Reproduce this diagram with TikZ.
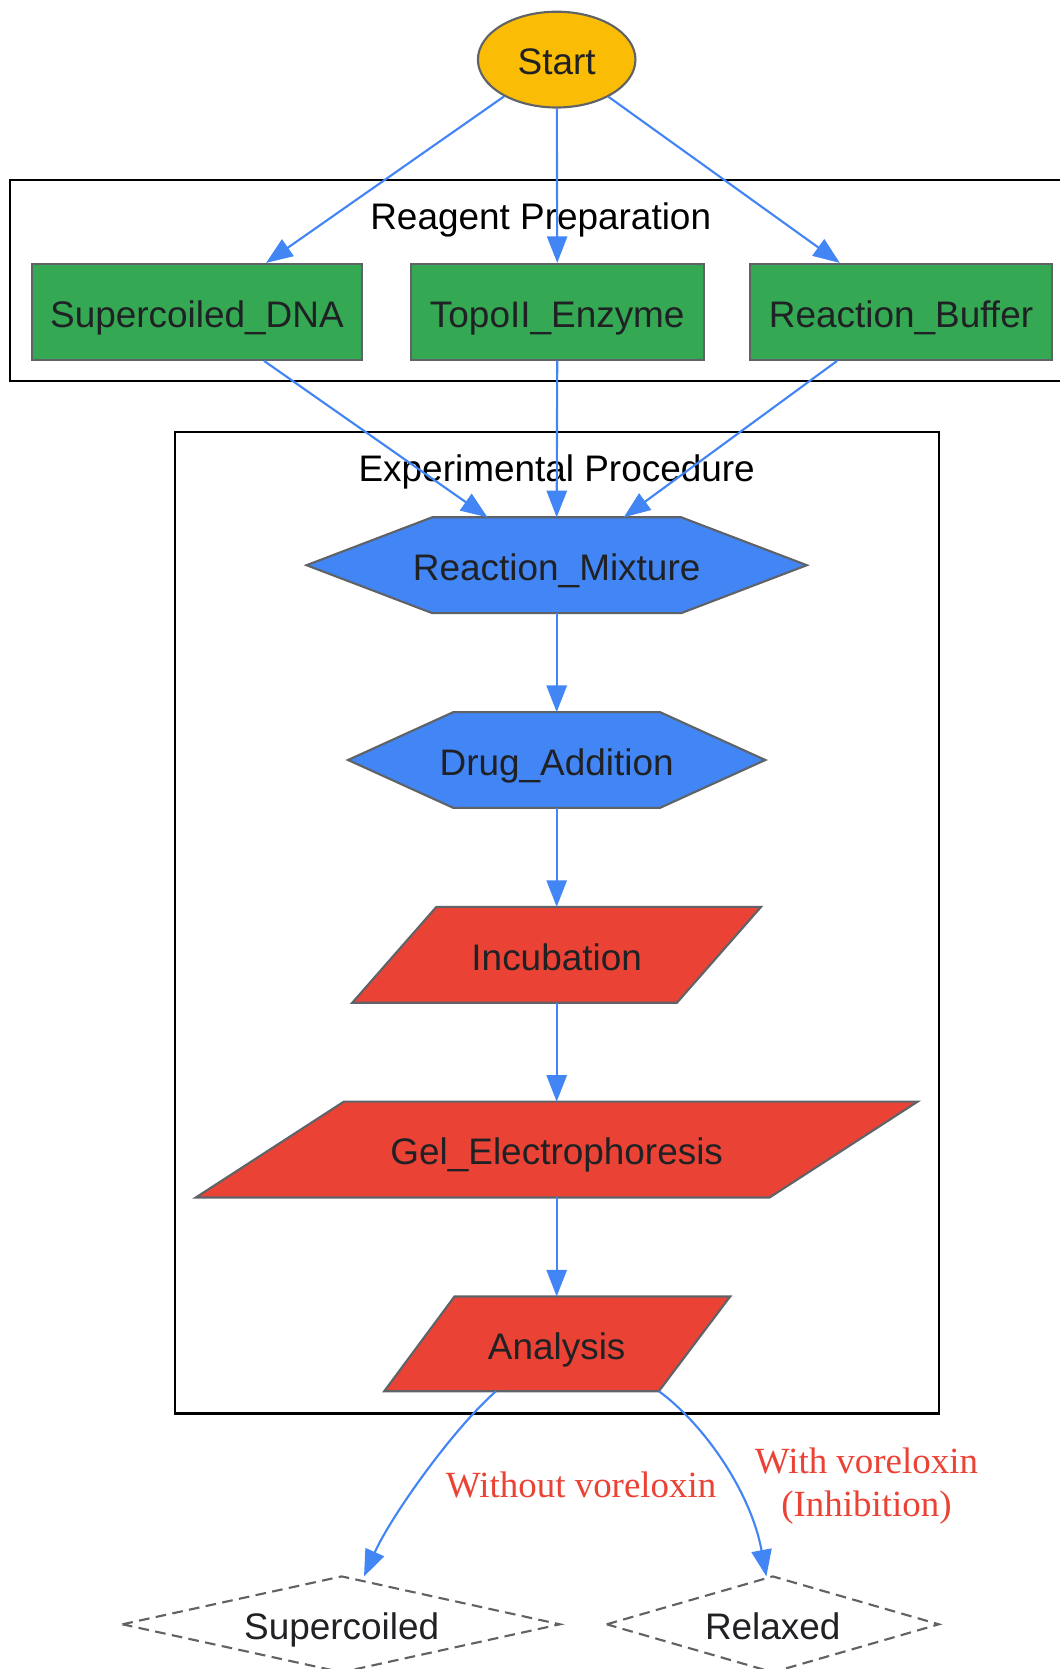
\documentclass[tikz,border=0pt]{standalone}
\usepackage{fontspec}
\setmainfont{Liberation Sans}
\newfontfamily\serifl{Liberation Serif}
\usetikzlibrary{arrows.meta,shapes.geometric}
\definecolor{cyel}{HTML}{FBBC05}
\definecolor{cgreen}{HTML}{34A853}
\definecolor{cblue}{HTML}{4285F4}
\definecolor{cred}{HTML}{EA4335}
\definecolor{cbord}{HTML}{5F6368}
\definecolor{ctext}{HTML}{202124}
\begin{document}
\begin{tikzpicture}[x=1pt,y=-1pt,
  edge/.style={draw=cblue, line width=2pt, -{Triangle[length=25pt,width=19pt]}},
  shp/.style={draw=cbord, line width=2pt, line join=miter},
  lbl/.style={font=\fontsize{34.7pt}{41.6pt}\selectfont, text=ctext, inner sep=0pt, text height=35.8pt, text depth=7pt},
  clab/.style={font=\fontsize{34.7pt}{41.6pt}\selectfont, text=black, inner sep=0pt, text height=35.8pt, text depth=7pt},
  elab/.style={font=\serifl\fontsize{34.7pt}{41pt}\selectfont, text=cred, inner sep=0pt, align=center},
  box/.style={shp, fill=cgreen, rectangle, minimum height=90pt, inner sep=0pt, lbl},
  clus/.style={draw=black, line width=2pt},
  outc/.style={draw=cbord, line width=2pt, dash pattern=on 10pt off 6pt}]
\useasboundingbox (0,0) rectangle (995,1568);

% clusters
\draw[clus] (9,169) rectangle (1000,358);
\node[clab] (cl1) at (508,201) {Reagent Preparation};
\draw[clus] (164,406) rectangle (882,1328);
\node[clab] (cl2) at (523,438) {Experimental Procedure};

% start
\node[ellipse, shp, fill=cyel, minimum width=148pt, minimum height=90pt, inner sep=0pt, lbl] (start) at (523,56) {Start};

% reagent boxes
\node[box, minimum width=310pt] (sdna) at (185,293) {Supercoiled\_DNA};
\node[box, minimum width=275pt] (topo) at (523.5,293) {TopoII\_Enzyme};
\node[box, minimum width=283pt] (buf) at (846.5,293) {Reaction\_Buffer};

% hexagons
\draw[shp, fill=cblue] (288,531) -- (406,486) -- (640,486) -- (758,531) -- (640,576) -- (406,576) -- cycle;
\coordinate (rm-n) at (523,486); \coordinate (rm-s) at (523,576);
\node[lbl] (rm) at (523,531) {Reaction\_Mixture};

\draw[shp, fill=cblue] (327,714) -- (426,669) -- (620,669) -- (719,714) -- (620,759) -- (426,759) -- cycle;
\coordinate (da-n) at (523,669); \coordinate (da-s) at (523,759);
\node[lbl] (da) at (523,714) {Drug\_Addition};

% parallelograms
\draw[shp, fill=cred] (410,852) -- (715,852) -- (636,942) -- (331,942) -- cycle;
\coordinate (inc-n) at (523,852); \coordinate (inc-s) at (523,942);
\node[lbl] (inc) at (523,897) {Incubation};

\draw[shp, fill=cred] (323,1035) -- (862,1035) -- (723,1125) -- (184,1125) -- cycle;
\coordinate (gel-n) at (523,1035); \coordinate (gel-s) at (523,1125);
\node[lbl] (gel) at (523,1080) {Gel\_Electrophoresis};

\draw[shp, fill=cred] (427,1218) -- (686,1218) -- (619,1307) -- (361,1307) -- cycle;
\coordinate (an-n) at (523,1218); \coordinate (an-s) at (523,1307);
\node[lbl] (an) at (523,1263) {Analysis};

% outcome diamonds
\draw[outc] (115,1526) -- (321,1481) -- (526,1526) -- (321,1571) -- cycle;
\coordinate (sc-n) at (321,1481);
\node[lbl] (sc) at (321,1526) {Supercoiled};
\draw[outc] (570,1526) -- (726,1481) -- (882,1526) -- (726,1571) -- cycle;
\coordinate (rx-n) at (726,1481);
\node[lbl] (rx) at (726,1526) {Relaxed};

% edges
\draw[edge] (start) -- ([xshift=65pt]sdna.north);
\draw[edge] (start) -- (topo.north);
\draw[edge] (start) -- ([xshift=-57.5pt]buf.north);
\draw[edge] ([xshift=63pt]sdna.south) -- ([xshift=-65pt]rm-n);
\draw[edge] (topo.south) -- (rm-n);
\draw[edge] ([xshift=-60pt]buf.south) -- ([xshift=63pt]rm-n);
\draw[edge] (rm-s) -- (da-n);
\draw[edge] (da-s) -- (inc-n);
\draw[edge] (inc-s) -- (gel-n);
\draw[edge] (gel-s) -- (an-n);
\draw[edge] ([xshift=-57pt]an-s) .. controls (425,1343) and (367,1425) .. ([xshift=21pt]sc-n);
\draw[edge] ([xshift=96pt]an-s) .. controls (660,1337) and (705,1400) .. ([xshift=-6pt]rx-n);

% edge labels
\node[elab] (l1) at (546,1395) {Without voreloxin};
\node[elab] (l2) at (814,1396) {With voreloxin\\(Inhibition)};
\end{tikzpicture}
\end{document}
